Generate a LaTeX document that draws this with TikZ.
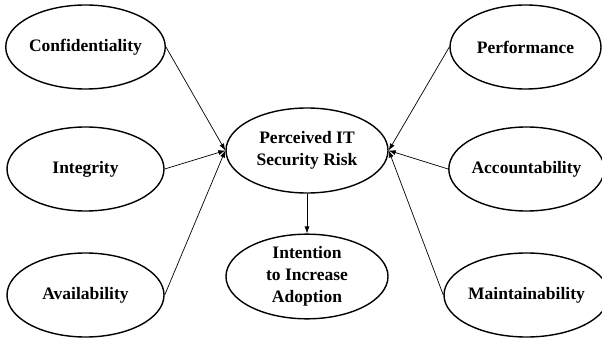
\documentclass[tikz,border=0pt]{standalone}
\usepackage{fontspec}
\setmainfont{Liberation Serif}
\usetikzlibrary{shapes.geometric,arrows.meta}
\tikzset{
  construct/.style={ellipse, draw, line width=1.4pt, inner sep=0pt,
    minimum width=#1, minimum height=84pt, align=center,
    font=\fontsize{17.5}{22}\selectfont\bfseries},
  construct/.default=157pt,
  path link/.style={line width=0.7pt, -{Latex[length=7pt,width=5pt]}}
}
\begin{document}
\begin{tikzpicture}[x=1pt,y=-1pt]
  \useasboundingbox (0,0) rectangle (602,339);
  % antecedents on the left
  \node[construct] (conf)  at (85.5,47)  {Confidentiality};
  \node[construct] (integ) at (85.5,169) {Integrity};
  \node[construct] (avail) at (85.5,295) {Availability};
  % antecedents on the right
  \node[construct=151pt] (perf) at (525.5,47)  {Performance};
  \node[construct=149pt] (acct) at (526.5,169) {Accountability};
  \node[construct=149pt] (main) at (526.5,295) {Maintainability};
  % central constructs
  \node[construct=162pt, minimum height=85pt] (risk) at (307,150.5) {Perceived IT\\Security Risk};
  \node[construct=162pt, minimum height=83pt] (adopt) at (307,276.5) {Intention\\to Increase\\Adoption};
  % paths
  \draw[path link] (conf.east)  -- (risk.west);
  \draw[path link] (integ.east) -- (risk.west);
  \draw[path link] (avail.east) -- (risk.west);
  \draw[path link] (perf.west)  -- (risk.east);
  \draw[path link] (acct.west)  -- (risk.east);
  \draw[path link] (main.west)  -- (risk.east);
  \draw[path link] (risk.south) -- (adopt.north);
\end{tikzpicture}
\end{document}
